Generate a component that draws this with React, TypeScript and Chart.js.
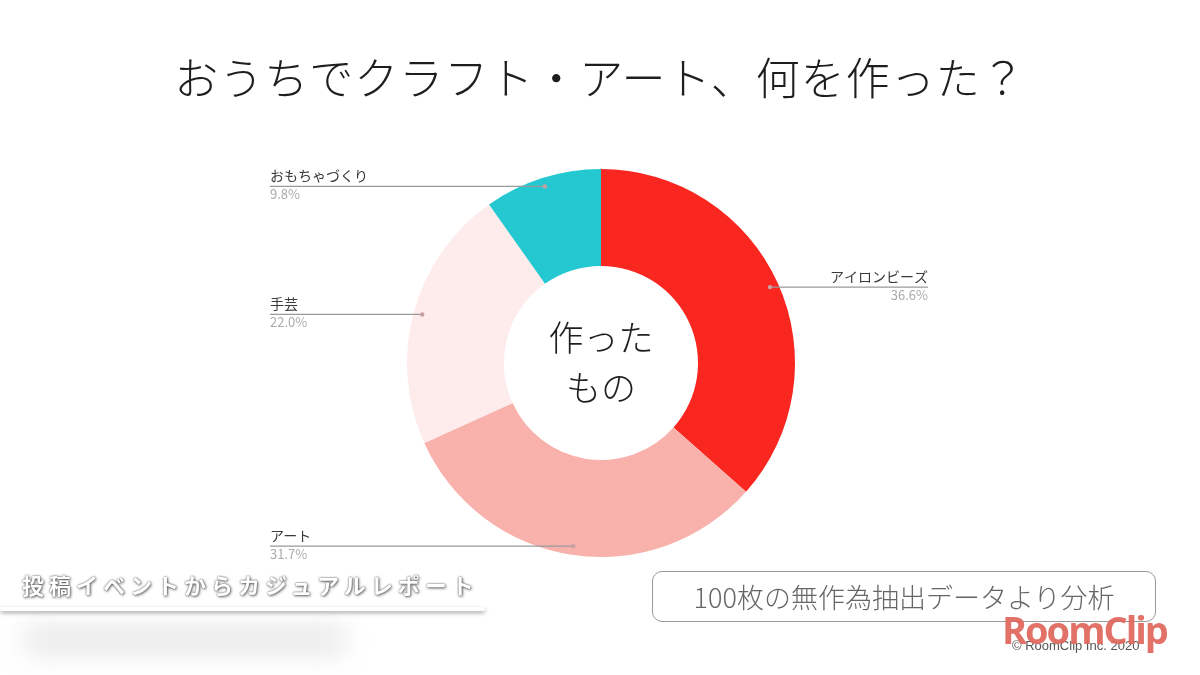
import React, { useEffect, useRef } from "react";
import { Chart, registerables } from "chart.js";

Chart.register(...registerables);

const categories = ["アイロンビーズ", "アート", "手芸", "おもちゃづくり"];
const shares = [36.6, 31.7, 22.0, 9.8];
const sliceColors = ["#FA2620", "#F9B1AB", "#FEEBEB", "#23C8D1"];
const centerLines = ["作った", "もの"];
const titleText = "おうちでクラフト・アート、何を作った？";
const noteText = "100枚の無作為抽出データより分析";
const reportText = "投稿イベントからカジュアルレポート";

const JP = "'Noto Sans CJK JP', 'Noto Sans', sans-serif";

const leaderPlugin = {
  id: "leaderLabels",
  afterDatasetsDraw(chart: any) {
    const ctx = chart.ctx as CanvasRenderingContext2D;
    const meta = chart.getDatasetMeta(0);
    const leftX = 270;
    const rightX = 928;
    ctx.save();
    meta.data.forEach((arc: any, i: number) => {
      const p = arc.getProps(["x", "y", "startAngle", "endAngle", "outerRadius"], true);
      const mid = (p.startAngle + p.endAngle) / 2;
      const r = p.outerRadius * 0.955;
      const px = p.x + Math.cos(mid) * r;
      const py = p.y + Math.sin(mid) * r;
      const right = px > p.x;
      const ex = right ? rightX : leftX;
      ctx.strokeStyle = "#9a9a9e";
      ctx.lineWidth = 1.2;
      ctx.beginPath();
      ctx.moveTo(px, py);
      ctx.lineTo(ex, py);
      ctx.stroke();
      ctx.fillStyle = "#c9a0a3";
      ctx.beginPath();
      ctx.arc(px, py, 2.2, 0, Math.PI * 2);
      ctx.fill();
      ctx.textAlign = right ? "right" : "left";
      ctx.textBaseline = "alphabetic";
      ctx.fillStyle = "#3a3a3a";
      ctx.font = `14px ${JP}`;
      ctx.fillText(categories[i], ex, py - 5);
      ctx.fillStyle = "#ababab";
      ctx.font = `13px ${JP}`;
      ctx.textBaseline = "top";
      ctx.fillText(shares[i].toFixed(1) + "%", ex, py + 1);
    });
    const a0 = meta.data[0];
    if (a0) {
      const c = a0.getProps(["x", "y"], true);
      ctx.fillStyle = "#1e1e1e";
      ctx.font = `300 35px ${JP}`;
      ctx.textAlign = "center";
      ctx.textBaseline = "middle";
      ctx.fillText(centerLines[0], c.x, c.y - 25);
      ctx.fillText(centerLines[1], c.x, c.y + 25);
    }
    ctx.restore();
  },
};

export default function App() {
  const ref = useRef<HTMLCanvasElement | null>(null);
  useEffect(() => {
    if (!ref.current) return;
    const chart = new Chart(ref.current, {
      type: "doughnut",
      data: {
        labels: categories,
        datasets: [
          {
            data: shares,
            backgroundColor: sliceColors,
            borderWidth: 0,
          },
        ],
      },
      options: {
        responsive: false,
        animation: false,
        cutout: "50%",
        layout: { padding: { top: 169, bottom: 118, left: 407, right: 405 } },
        plugins: {
          legend: { display: false },
          tooltip: { enabled: false },
          title: { display: false },
        },
      },
      plugins: [leaderPlugin],
    });
    return () => chart.destroy();
  }, []);

  return (
    <div
      style={{
        position: "absolute",
        left: 0,
        top: 0,
        width: 1200,
        height: 675,
        background: "#ffffff",
        overflow: "hidden",
        fontFamily: JP,
      }}
    >
      <canvas ref={ref} width={1200} height={675} style={{ position: "absolute", left: 0, top: 0 }} />
      <div
        style={{
          position: "absolute",
          left: 0,
          top: 52,
          width: 1200,
          textAlign: "center",
          fontSize: 44,
          lineHeight: "48px",
          fontWeight: 300,
          color: "#1e1e1e",
          letterSpacing: 1,
        }}
      >
        {titleText}
      </div>
      <div
        style={{
          position: "absolute",
          left: 25,
          top: 624,
          width: 320,
          height: 32,
          background: "#d8d8d8",
          filter: "blur(12px)",
          opacity: 0.5,
        }}
      />
      <div
        style={{
          position: "absolute",
          left: 22,
          top: 570,
          fontSize: 22,
          lineHeight: "28px",
          fontWeight: 700,
          color: "#ffffff",
          letterSpacing: 5,
          whiteSpace: "nowrap",
          textShadow: "0 0 2px rgba(0,0,0,0.7), 1px 1px 3px rgba(0,0,0,0.55)",
        }}
      >
        {reportText}
      </div>
      <div
        style={{
          position: "absolute",
          left: 0,
          top: 607,
          width: 485,
          height: 4,
          background: "#ffffff",
          borderRadius: 2,
          boxShadow: "0 2px 4px rgba(0,0,0,0.35)",
        }}
      />
      <div
        style={{
          position: "absolute",
          left: 652,
          top: 571,
          width: 502,
          height: 49,
          border: "1.5px solid #9a9a9a",
          borderRadius: 10,
          display: "flex",
          alignItems: "center",
          justifyContent: "center",
          fontSize: 27,
          fontWeight: 300,
          color: "#666666",
          whiteSpace: "nowrap",
        }}
      >
        {noteText}
      </div>
      <div
        style={{
          position: "absolute",
          left: 1012,
          top: 638,
          fontSize: 13,
          color: "#555",
          fontFamily: "'Liberation Sans', sans-serif",
          whiteSpace: "nowrap",
        }}
      >
        © RoomClip Inc. 2020
      </div>
      <div
        style={{
          position: "absolute",
          left: 1002,
          top: 606,
          fontSize: 38,
          lineHeight: "46px",
          fontWeight: 700,
          color: "#E0665B",
          opacity: 0.92,
          fontFamily: "'Open Sans', sans-serif",
          letterSpacing: -2,
          whiteSpace: "nowrap",
        }}
      >
        RoomClip
      </div>
    </div>
  );
}
